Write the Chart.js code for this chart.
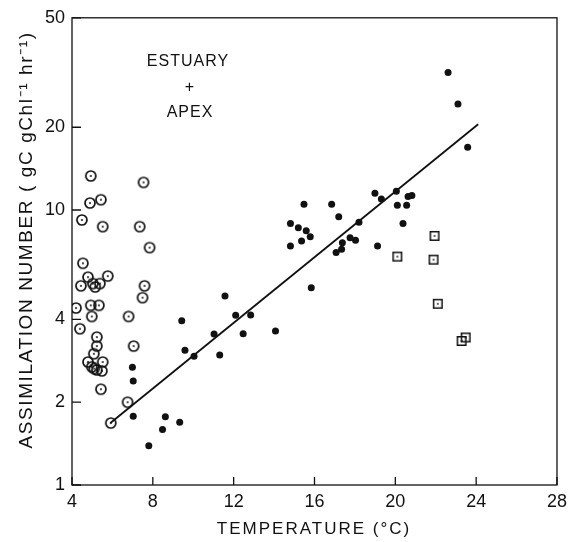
<!DOCTYPE html>
<html lang="en">
<head>
<meta charset="UTF-8">
<title>Assimilation number vs temperature</title>
<script src="https://cdn.jsdelivr.net/npm/chart.js"></script>
<style>
    body { margin: 0; background: #ffffff; }
    #wrap { width: 573px; height: 542px; }
</style>
</head>
<body>
<div id="wrap"><canvas id="chart"></canvas></div>
<script>
// circled dots (open circle with centre dot)
const circleTemp = [4.93, 7.54, 4.89, 5.43, 4.49, 5.52, 7.35, 7.84, 4.54, 4.79, 4.44, 5.03, 5.38, 5.77, 7.59, 7.49, 4.2, 4.93, 5.33, 4.98, 6.8, 4.39, 5.23, 5.23, 7.05, 5.08, 4.79, 5.52, 4.98, 5.23, 5.48, 5.43, 6.75, 5.92, 5.15, 5.1];
const circleAN   = [13.3, 12.6, 10.6, 10.9, 9.2, 8.7, 8.7, 7.3, 6.4, 5.7, 5.3, 5.4, 5.4, 5.75, 5.3, 4.8, 4.4, 4.5, 4.5, 4.1, 4.1, 3.7, 3.45, 3.2, 3.2, 3.0, 2.8, 2.8, 2.69, 2.62, 2.6, 2.23, 2.0, 1.68, 5.25, 2.65];

// filled dots
const dotTemp = [11.57, 9.43, 12.1, 12.84, 11.03, 12.47, 9.59, 10.04, 11.31, 14.07, 6.99, 7.03, 7.03, 8.62, 9.33, 8.48, 7.8, 15.48, 16.85, 17.2, 14.81, 15.2, 15.59, 15.79, 15.36, 14.81, 18.99, 19.31, 20.05, 20.1, 20.56, 20.63, 20.82, 20.38, 18.2, 17.76, 18.03, 17.38, 17.34, 17.07, 19.12, 15.84, 22.61, 23.1, 23.58];
const dotAN   = [4.87, 3.96, 4.14, 4.15, 3.54, 3.55, 3.09, 2.94, 2.97, 3.63, 2.68, 2.39, 1.78, 1.77, 1.69, 1.59, 1.39, 10.5, 10.5, 9.45, 8.94, 8.62, 8.41, 8.0, 7.71, 7.4, 11.5, 10.96, 11.7, 10.4, 10.4, 11.2, 11.3, 8.93, 9.02, 7.93, 7.76, 7.6, 7.2, 7.0, 7.4, 5.22, 31.6, 24.3, 16.9];

// squares with centre dot
const squareTemp = [20.1, 21.94, 21.89, 22.1, 23.28, 23.48];
const squareAN   = [6.77, 8.05, 6.6, 4.56, 3.34, 3.44];

// fitted line end points
const fitTemp = [5.9, 24.1];
const fitAN   = [1.68, 20.5];

const xTicks = [4, 8, 12, 16, 20, 24, 28];
const yTicks = [1, 2, 4, 10, 20, 50];

const FONT = "'Liberation Sans', Arial, sans-serif";
const INK = '#111111';

function pts(xs, ys) { return xs.map((x, i) => ({ x: x, y: ys[i] })); }

function circleDot() {
    const c = document.createElement('canvas');
    c.width = 14; c.height = 14;
    const g = c.getContext('2d');
    g.strokeStyle = INK; g.lineWidth = 1.7;
    g.beginPath(); g.arc(7, 7, 5, 0, Math.PI * 2); g.stroke();
    g.fillStyle = INK;
    g.beginPath(); g.arc(7, 7, 1, 0, Math.PI * 2); g.fill();
    return c;
}

function squareDot() {
    const c = document.createElement('canvas');
    c.width = 12; c.height = 12;
    const g = c.getContext('2d');
    g.strokeStyle = INK; g.lineWidth = 1.5;
    g.strokeRect(1.75, 1.75, 8.5, 8.5);
    g.fillStyle = INK;
    g.fillRect(5.2, 5.2, 1.6, 1.6);
    return c;
}

// frame, inward ticks and text labels
const decor = {
    id: 'decor',
    afterDraw(chart) {
        const { ctx, chartArea: a, scales } = chart;
        ctx.save();
        ctx.strokeStyle = INK;
        ctx.lineWidth = 1.3;
        ctx.strokeRect(a.left, a.top, a.right - a.left, a.bottom - a.top);
        ctx.beginPath();
        xTicks.forEach(t => {
            const px = scales.x.getPixelForValue(t);
            ctx.moveTo(px, a.bottom); ctx.lineTo(px, a.bottom - 8);
        });
        yTicks.forEach(t => {
            const py = scales.y.getPixelForValue(t);
            ctx.moveTo(a.left, py); ctx.lineTo(a.left + 9, py);
        });
        ctx.stroke();

        ctx.fillStyle = INK;
        ctx.font = '16px ' + FONT;
        ctx.textAlign = 'center';
        ctx.textBaseline = 'middle';
        ctx.letterSpacing = '1px';
        ctx.fillText('ESTUARY', 188, 62);
        ctx.fillText('+', 190, 88);
        ctx.fillText('APEX', 190, 113);

        ctx.font = '17px ' + FONT;
        ctx.letterSpacing = '2px';
        ctx.fillText('TEMPERATURE (\u00B0C)', 314, 529);

        ctx.translate(27, 240);
        ctx.rotate(-Math.PI / 2);
        ctx.font = '19px ' + FONT;
        ctx.letterSpacing = '1.6px';
        ctx.fillText('ASSIMILATION NUMBER ( gC gChl\u207B\u00B9 hr\u207B\u00B9)', 0, 0);
        ctx.restore();
    }
};

new Chart(document.getElementById('chart'), {
    type: 'scatter',
    data: {
        datasets: [
            {
                label: 'fit',
                type: 'line',
                data: pts(fitTemp, fitAN),
                borderColor: INK,
                borderWidth: 1.8,
                pointRadius: 0,
                fill: false
            },
            {
                label: 'circles',
                data: pts(circleTemp, circleAN),
                pointStyle: circleDot(),
                pointRadius: 6
            },
            {
                label: 'dots',
                data: pts(dotTemp, dotAN),
                pointStyle: 'circle',
                pointRadius: 3.5,
                backgroundColor: INK,
                borderColor: INK,
                borderWidth: 0
            },
            {
                label: 'squares',
                data: pts(squareTemp, squareAN),
                pointStyle: squareDot(),
                pointRadius: 6
            }
        ]
    },
    options: {
        responsive: true,
        maintainAspectRatio: false,
        animation: false,
        events: [],
        layout: { padding: { left: 0, right: 13, top: 17, bottom: 0 } },
        plugins: {
            legend: { display: false },
            tooltip: { enabled: false }
        },
        scales: {
            x: {
                type: 'linear',
                min: 4,
                max: 28,
                afterBuildTicks: s => { s.ticks = xTicks.map(v => ({ value: v })); },
                afterFit: s => { s.height = 57; },
                ticks: {
                    color: INK,
                    font: { family: FONT, size: 18 },
                    padding: 6,
                    maxRotation: 0
                },
                grid: { display: false, drawTicks: false },
                border: { display: false }
            },
            y: {
                type: 'logarithmic',
                min: 1,
                max: 50,
                afterBuildTicks: s => { s.ticks = yTicks.map(v => ({ value: v })); },
                afterFit: s => { s.width = 72; },
                ticks: {
                    color: INK,
                    font: { family: FONT, size: 18 },
                    padding: 7,
                    callback: v => String(v)
                },
                grid: { display: false, drawTicks: false },
                border: { display: false }
            }
        }
    },
    plugins: [decor]
});
</script>
</body>
</html>
